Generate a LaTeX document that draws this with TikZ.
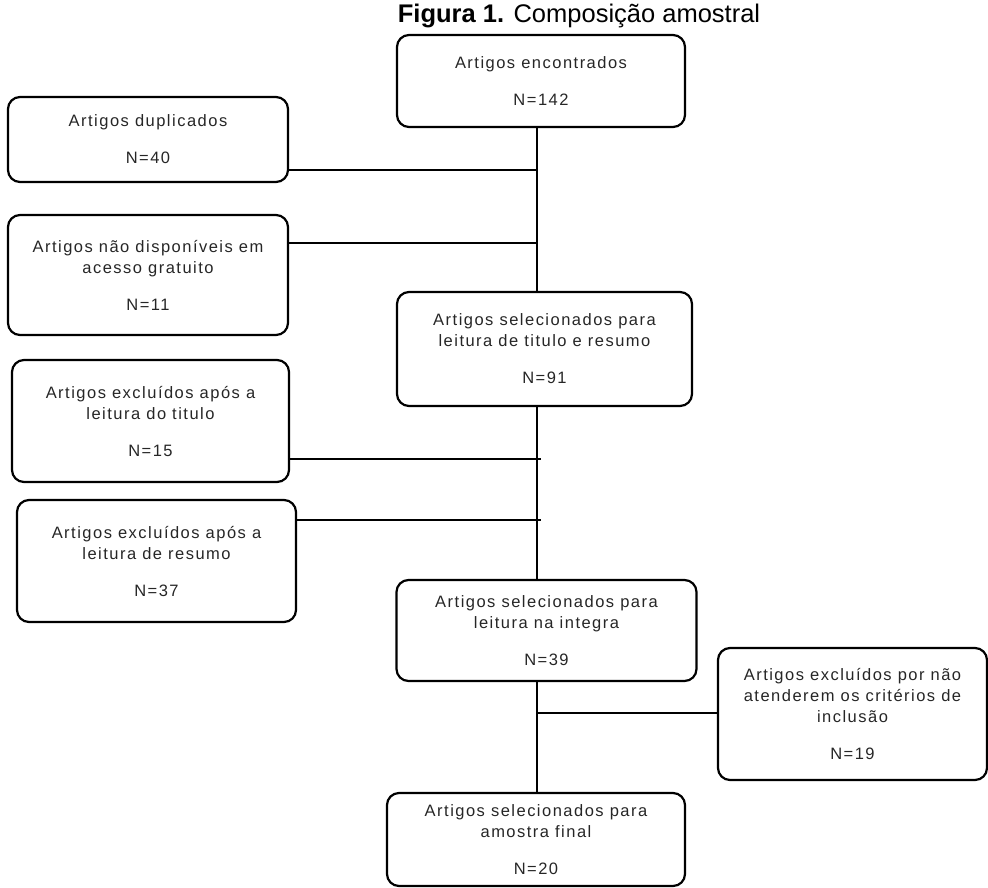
\documentclass[tikz,border=0pt]{standalone}
\usepackage{fontspec}
\setmainfont{Liberation Sans}
\newfontfamily\spacedfont{Liberation Sans}[LetterSpace=9]
\usetikzlibrary{positioning, calc}

\begin{document}
\begin{tikzpicture}[
    x=1pt, y=-1pt,
    box/.style={rectangle, rounded corners=12pt, draw=black, line width=2.2pt,
                align=center, inner sep=0pt, text=black!85,
                font=\spacedfont\fontsize{16.5}{21}\selectfont},
    captext/.style={font=\fontsize{25.5}{30}\selectfont, anchor=base, inner sep=0pt},
    link/.style={line width=1.2pt, draw=black}
]
\useasboundingbox (0,0) rectangle (988,887);

\node[captext] (caption) at (579,22) {\textbf{Figura 1.} Composição amostral};

% central column
\node[box, minimum width=288pt, minimum height=92pt] (found) at (541,81)
  {Artigos encontrados\\[16pt]N=142};
\node[box, minimum width=295pt, minimum height=114pt] (titlesel) at (544.5,349)
  {Artigos selecionados para\\leitura de titulo e resumo\\[16pt]N=91};
\node[box, minimum width=300pt, minimum height=101pt] (fullsel) at (546.5,630.5)
  {Artigos selecionados para\\leitura na integra\\[16pt]N=39};
\node[box, minimum width=298pt, minimum height=93pt] (final) at (536,839.5)
  {Artigos selecionados para\\amostra final\\[16pt]N=20};

% excluded, left side
\node[box, minimum width=280pt, minimum height=85pt] (dup) at (148,139.5)
  {Artigos duplicados\\[16pt]N=40};
\node[box, minimum width=280pt, minimum height=120pt] (nofree) at (148,275)
  {Artigos não disponíveis em\\acesso gratuito\\[16pt]N=11};
\node[box, minimum width=277pt, minimum height=122pt] (extitle) at (150.5,421)
  {Artigos excluídos após a\\leitura do titulo\\[16pt]N=15};
\node[box, minimum width=279pt, minimum height=122pt] (exabs) at (156.5,561)
  {Artigos excluídos após a\\leitura de resumo\\[16pt]N=37};

% excluded, right side
\node[box, minimum width=269pt, minimum height=132pt] (excrit) at (852.5,714)
  {Artigos excluídos por não\\atenderem os critérios de\\inclusão\\[16pt]N=19};

% joints on the spine
\coordinate (spine) at (537,0);
\coordinate (jdup) at (537,170);
\coordinate (jfree) at (537,243);
\coordinate (jtitle) at (541,459);
\coordinate (jabs) at (541,520);
\coordinate (jcrit) at (536,713);

\draw[link] (found.south -| spine) -- (titlesel.north -| spine);
\draw[link] (titlesel.south -| spine) -- (fullsel.north -| spine);
\draw[link] (fullsel.south -| spine) -- (final.north -| spine);
\draw[link] (dup.east |- jdup) -- (jdup);
\draw[link] (nofree.east |- jfree) -- (jfree);
\draw[link] (extitle.east |- jtitle) -- (jtitle);
\draw[link] (exabs.east |- jabs) -- (jabs);
\draw[link] (jcrit) -- (excrit.west |- jcrit);
\end{tikzpicture}
\end{document}
